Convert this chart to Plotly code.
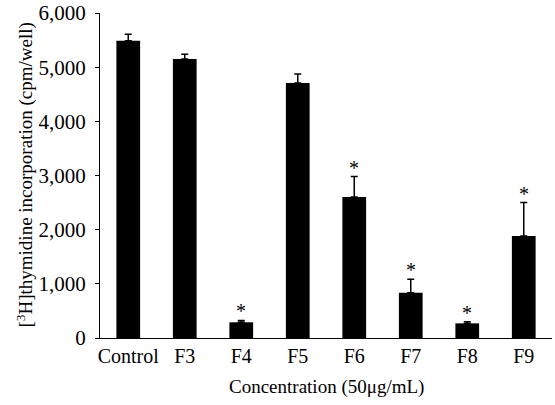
import plotly.graph_objects as go

categories = ["Control", "F3", "F4", "F5", "F6", "F7", "F8", "F9"]
values = [5490, 5150, 290, 4710, 2605, 835, 270, 1885]
errors = [120, 90, 35, 165, 375, 250, 30, 615]
significant = [False, False, True, False, True, True, True, True]
y_ticks = [0, 1000, 2000, 3000, 4000, 5000, 6000]
y_tick_labels = ["0", "1,000", "2,000", "3,000", "4,000", "5,000", "6,000"]
x_title = "Concentration (50\u03bcg/mL)"
y_title = "[<sup>3</sup>H]thymidine incorporation (cpm/well)"

FONT = "Liberation Serif, Times New Roman, serif"

fig = go.Figure()
fig.add_trace(go.Bar(
    x=categories,
    y=values,
    width=0.42,
    marker=dict(color="black", line=dict(width=0)),
    error_y=dict(type="data", array=errors, arrayminus=[0] * len(errors),
                 symmetric=False, color="black", thickness=1.5, width=3.5),
))

for cat, v, e, s in zip(categories, values, errors, significant):
    if s:
        fig.add_annotation(x=cat, y=v + e, text="*", showarrow=False,
                           yanchor="bottom", yshift=-4,
                           font=dict(family=FONT, size=20, color="#000000"))

# axis titles
fig.add_annotation(xref="paper", yref="paper", x=0.5, y=0, text=x_title,
                   showarrow=False, xanchor="center", yanchor="middle", yshift=-49,
                   font=dict(family=FONT, size=19, color="black"))
fig.add_annotation(xref="paper", yref="paper", x=0, y=0.5, text=y_title,
                   showarrow=False, xanchor="center", yanchor="middle", xshift=-75,
                   textangle=-90,
                   font=dict(family=FONT, size=19, color="black"))

fig.update_layout(
    width=555, height=405,
    margin=dict(l=100, r=3, t=13, b=67, autoexpand=False),
    paper_bgcolor="white", plot_bgcolor="white",
    showlegend=False,
    font=dict(family=FONT, size=19, color="black"),
)
fig.update_xaxes(
    range=[-0.5, 7.5],
    automargin=False,
    showline=True, linecolor="black", linewidth=1.2,
    ticks="", showgrid=False,
    tickfont=dict(family=FONT, size=20),
)
fig.update_yaxes(
    range=[0, 6000],
    automargin=False,
    tickvals=y_ticks, ticktext=y_tick_labels,
    ticklabeloverflow="allow",
    showline=True, linecolor="black", linewidth=1.2,
    ticks="outside", ticklen=4, tickcolor="black",
    ticklabelstandoff=5,
    showgrid=False, zeroline=False,
    tickfont=dict(family=FONT, size=21),
)

fig.write_html(
    "out.html",
    config={"displayModeBar": False},
    post_script="document.body.style.margin='0';document.body.style.overflow='hidden';",
)
